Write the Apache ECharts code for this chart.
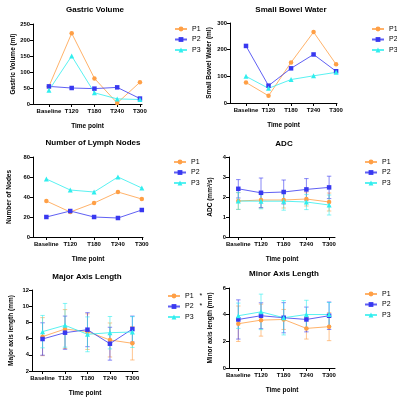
<!DOCTYPE html>
<html><head><meta charset="utf-8">
<script src="https://cdn.jsdelivr.net/npm/echarts@6/dist/echarts.min.js"></script>
<style>html,body{margin:0;padding:0;background:#fff}#c{width:397px;height:400px}</style>
</head><body><div id="c"></div>
<script>
const categories = ['Baseline','T120','T180','T240','T300'];
const seriesNames = ['P1','P2','P3'];

const gastricP1 = [55, 221, 80, 3, 68];
const gastricP2 = [55, 50, 48, 52, 17];
const gastricP3 = [43, 150, 35, 16, 14];

const bowelP1 = [77, 27, 152, 266, 145];
const bowelP2 = [214, 65, 130, 182, 119];
const bowelP3 = [100, 55, 88, 102, 115];

const nodesP1 = [36, 25, 34, 45, 38];
const nodesP2 = [20, 26, 20, 19, 27];
const nodesP3 = [58, 47, 45, 60, 49];

const adcP1 = [1.80, 1.85, 1.85, 1.90, 1.75];
const adcP2 = [2.41, 2.21, 2.25, 2.38, 2.48];
const adcP3 = [1.80, 1.79, 1.79, 1.75, 1.60];
const adcSdP1 = [0.42, 0.40, 0.40, 0.35, 0.45];
const adcSdP2 = [0.46, 0.74, 0.60, 0.54, 0.56];
const adcSdP3 = [0.42, 0.38, 0.45, 0.38, 0.50];

const majorP1 = [6.24, 7.18, 6.86, 5.83, 5.42];
const majorP2 = [5.95, 6.73, 7.10, 5.37, 7.18];
const majorP3 = [6.86, 7.64, 6.53, 6.73, 6.81];
const majorSdP1 = [2.35, 2.40, 2.20, 2.10, 2.06];
const majorSdP2 = [2.00, 2.05, 2.10, 2.03, 1.60];
const majorSdP3 = [2.00, 2.70, 2.15, 2.00, 1.90];

const minorP1 = [3.32, 3.59, 3.64, 2.97, 3.10];
const minorP2 = [3.64, 3.92, 3.77, 3.64, 3.92];
const minorP3 = [3.92, 4.21, 3.77, 4.01, 4.01];
const minorSdP1 = [1.33, 1.20, 0.75, 0.80, 1.05];
const minorSdP2 = [1.47, 0.97, 1.13, 0.93, 1.03];
const minorSdP3 = [0.95, 1.33, 1.29, 1.07, 0.90];

const titles = ['Gastric Volume','Small Bowel Water','Number of Lymph Nodes','ADC','Major Axis Length','Minor Axis Length'];
const yNames = ['Gastric Volume (ml)','Small Bowel Water (ml)','Number of Nodes','ADC (mm\u00b2/s)','Major axis length (mm)','Minor axis length (mm)'];
const yMin = [0, 0, 0, 0, 2, 0];
const yMax = [250, 300, 80, 4, 12, 6];
const yStep = [50, 100, 20, 1, 2, 2];

const panelValues = [
  [gastricP1, gastricP2, gastricP3],
  [bowelP1, bowelP2, bowelP3],
  [nodesP1, nodesP2, nodesP3],
  [adcP1, adcP2, adcP3],
  [majorP1, majorP2, majorP3],
  [minorP1, minorP2, minorP3]
];
const panelSd = [null, null, null,
  [adcSdP1, adcSdP2, adcSdP3],
  [majorSdP1, majorSdP2, majorSdP3],
  [minorSdP1, minorSdP2, minorSdP3]
];

// layout
const grids = [
  {left: 33, top: 24, width: 109, height: 80},
  {left: 230, top: 23, width: 107, height: 80},
  {left: 33, top: 157, width: 110, height: 80},
  {left: 229, top: 157, width: 106, height: 80},
  {left: 32, top: 290, width: 106, height: 81},
  {left: 229, top: 288, width: 106, height: 80}
];
const xRange = [[-0.70, 4.09], [-0.71, 4.04], [-0.56, 4.05], [-0.41, 4.26], [-0.47, 4.25], [-0.41, 4.26]];
const titlePos = [[95, 6], [291, 6], [93, 139], [284, 140], [87, 273], [284, 270]];
const yNameGap = [15, 17, 20, 15, 17, 15];
const legendPos = [[174, 25], [371, 25], [173, 158], [364, 158], [167, 292], [364, 290]];

const colors = ['#FF9F45', '#3838F0', '#30EEEE'];
const symbols = ['circle', 'rect', 'triangle'];
const FONT = '"Liberation Sans", Arial, sans-serif';

const option = {
  animation: false,
  textStyle: {fontFamily: FONT},
  title: titles.map((t, i) => ({
    text: t, left: titlePos[i][0], top: titlePos[i][1], textAlign: 'center', padding: 0,
    textStyle: {fontSize: 8, fontWeight: 'bold', color: '#000', fontFamily: FONT}
  })),
  grid: grids,
  xAxis: grids.map((g, i) => ({
    type: 'value', gridIndex: i, min: xRange[i][0], max: xRange[i][1],
    name: 'Time point', nameLocation: 'middle', nameGap: 19,
    nameTextStyle: {fontSize: 6.5, fontWeight: 'bold', color: '#000', fontFamily: FONT},
    axisLine: {onZero: false, lineStyle: {color: '#000', width: 1}},
    axisTick: {show: true, length: 3, customValues: [0, 1, 2, 3, 4], lineStyle: {color: '#000'}},
    axisLabel: {customValues: [0, 1, 2, 3, 4], formatter: v => categories[Math.round(v)], fontSize: 6, fontWeight: 'bold', color: '#000', margin: 4, fontFamily: FONT},
    splitLine: {show: false}
  })),
  yAxis: grids.map((g, i) => ({
    type: 'value', gridIndex: i, min: yMin[i], max: yMax[i], interval: yStep[i],
    name: yNames[i], nameLocation: 'middle', nameGap: yNameGap[i],
    nameTextStyle: {fontSize: 6.5, fontWeight: 'bold', color: '#000', fontFamily: FONT},
    axisLine: {show: true, onZero: false, lineStyle: {color: '#000', width: 1}},
    axisTick: {show: true, length: 3, lineStyle: {color: '#000'}},
    axisLabel: {fontSize: 5.8, fontWeight: 'bold', color: '#000', margin: 3, fontFamily: FONT},
    splitLine: {show: false}
  })),
  legend: legendPos.map((p, i) => ({
    data: seriesNames, orient: 'vertical', left: p[0], top: p[1], padding: 0,
    itemWidth: 12, itemHeight: 6, itemGap: 2.5,
    selectedMode: false,
    formatter: i === 4 ? (n => n === 'P3' ? n : n + '   *') : (n => n),
    textStyle: {fontSize: 7, color: '#000', lineHeight: 8, fontFamily: FONT}
  })),
  series: []
};

panelValues.forEach((vals, i) => {
  vals.forEach((arr, k) => {
    option.series.push({
      type: 'line', name: seriesNames[k], xAxisIndex: i, yAxisIndex: i,
      data: arr.map((v, j) => [j, v]),
      symbol: symbols[k], symbolSize: k === 2 ? 5 : 4.5,
      itemStyle: {color: colors[k]},
      lineStyle: {color: colors[k], width: 1, opacity: 0.8},
      z: 3
    });
  });
});

panelSd.forEach((sds, i) => {
  if (!sds) return;
  sds.forEach((sd, k) => {
    const means = panelValues[i][k];
    option.series.push({
      type: 'custom', name: seriesNames[k] + ' SD', xAxisIndex: i, yAxisIndex: i,
      data: means.map((m, j) => [j, m, sd[j]]),
      encode: {x: 0, y: 1},
      z: 2,
      renderItem: (params, api) => {
        const x = api.value(0), m = api.value(1), s = api.value(2);
        const top = api.coord([x, m + s]);
        const bot = api.coord([x, m - s]);
        const hw = 2.2;
        const st = {stroke: colors[k], lineWidth: 1, opacity: 0.6};
        return {
          type: 'group',
          children: [
            {type: 'line', shape: {x1: top[0], y1: top[1], x2: bot[0], y2: bot[1]}, style: st},
            {type: 'line', shape: {x1: top[0] - hw, y1: top[1], x2: top[0] + hw, y2: top[1]}, style: st},
            {type: 'line', shape: {x1: bot[0] - hw, y1: bot[1], x2: bot[0] + hw, y2: bot[1]}, style: st}
          ]
        };
      }
    });
  });
});

const chart = echarts.init(document.getElementById('c'), null, {renderer: 'canvas'});
chart.setOption(option);
</script>
</body></html>
